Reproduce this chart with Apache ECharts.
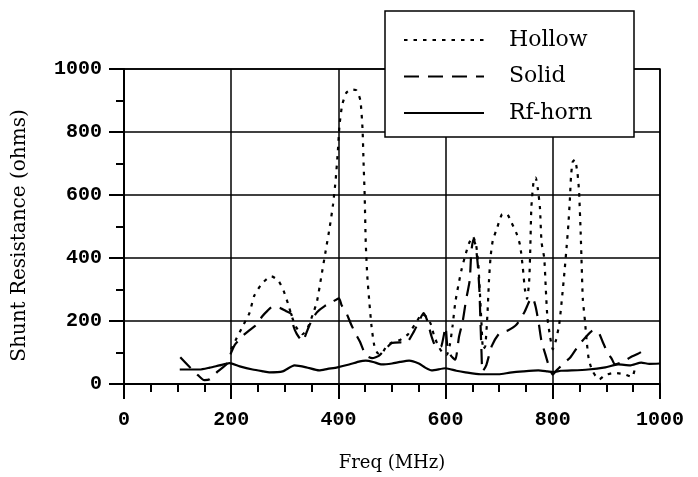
<!DOCTYPE html>
<html>
<head>
<meta charset="utf-8">
<script src="https://cdn.jsdelivr.net/npm/echarts@6/dist/echarts.min.js"></script>
<style>
  html, body { margin: 0; padding: 0; background: #fff; }
  #chart { width: 698px; height: 477px; }
</style>
</head>
<body>
<div id="chart"></div>
<script>
// values (freq in MHz, resistance in ohms)
const hollowFreq = [200, 210, 222, 234, 243, 258, 275, 288, 298, 306, 314, 322, 333, 343, 352, 360, 368, 376, 384, 390, 395, 399, 402, 407, 415, 425, 434, 441, 445, 447, 449, 451, 454, 458, 462, 467, 473, 480, 489, 500, 515, 530, 545, 556, 565, 573, 578, 586, 594, 602, 608, 613, 618, 624, 630, 637, 644, 651, 657, 661, 664, 667, 670, 674, 678, 681, 684, 688, 696, 705, 714, 723, 733, 739, 744, 748, 752, 756, 758, 760, 764, 768, 772, 776, 779, 784, 787, 790, 795, 800, 806, 812, 817, 822, 826, 829, 832, 834, 837, 841, 846, 849, 852, 854, 856, 860, 863, 867, 873, 880, 887, 897, 915, 935, 948, 953, 958]
const hollowVal = [110, 145, 185, 225, 280, 320, 342, 328, 295, 255, 210, 178, 158, 180, 220, 262, 340, 420, 500, 570, 650, 740, 820, 885, 925, 935, 932, 900, 810, 700, 600, 450, 340, 255, 180, 122, 98, 95, 118, 132, 140, 158, 195, 222, 212, 188, 156, 122, 100, 92, 125, 185, 258, 315, 365, 410, 448, 468, 440, 380, 290, 190, 110, 120, 220, 330, 405, 455, 495, 538, 540, 512, 475, 440, 370, 300, 270, 330, 430, 560, 640, 655, 620, 560, 450, 400, 300, 210, 150, 110, 140, 190, 270, 360, 440, 505, 590, 660, 705, 712, 670, 610, 480, 370, 270, 200, 140, 80, 45, 25, 15, 28, 35, 30, 22, 45, 55]

const solidFreq = [105, 122, 138, 150, 160, 175, 191, 200, 207, 221, 235, 247, 258, 268, 277, 290, 302, 312, 316, 322, 333, 342, 351, 360, 375, 390, 401, 406, 414, 423, 432, 440, 451, 463, 476, 490, 500, 515, 526, 541, 552, 559, 566, 574, 583, 592, 600, 603, 610, 618, 625, 632, 638, 645, 648, 652, 656, 660, 663, 665, 667, 669, 676, 686, 700, 716, 732, 747, 756, 762, 768, 774, 779, 786, 793, 800, 808, 820, 833, 848, 862, 875, 885, 894, 902, 910, 916, 930, 945, 958, 968]
const solidVal = [85, 55, 28, 12, 15, 40, 62, 100, 125, 152, 172, 188, 215, 233, 245, 242, 232, 222, 185, 160, 136, 170, 205, 228, 248, 262, 272, 250, 229, 192, 160, 135, 92, 82, 90, 115, 130, 132, 130, 167, 205, 225, 200, 150, 115, 120, 180, 125, 90, 77, 150, 200, 265, 330, 420, 460, 440, 380, 300, 200, 100, 40, 60, 120, 160, 170, 188, 228, 262, 275, 245, 190, 135, 95, 55, 30, 45, 65, 85, 122, 150, 170, 165, 130, 100, 80, 62, 70, 85, 95, 105]

const hornFreq = [104, 125, 141, 160, 178, 197, 216, 240, 260, 271, 296, 318, 340, 364, 380, 398, 420, 440, 451, 465, 481, 500, 515, 532, 550, 562, 574, 600, 620, 637, 665, 699, 720, 745, 773, 790, 800, 815, 835, 866, 898, 922, 944, 965, 980, 1000]
const hornVal = [46, 46, 46, 52, 59, 66, 56, 46, 40, 37, 40, 59, 53, 43, 48, 53, 62, 72, 74, 70, 62, 65, 70, 74, 65, 52, 43, 50, 42, 37, 31, 31, 36, 40, 43, 40, 38, 42, 43, 46, 53, 62, 59, 68, 64, 65]

const xTicks = { min: 0, max: 1000, step: 200 }
const yTicks = { min: 0, max: 1000, step: 200 }

const zip = (xs, ys) => xs.map((x, i) => [x, ys[i]])

const chart = echarts.init(document.getElementById('chart'))

const tickFont = { fontFamily: 'Liberation Mono', fontSize: 20, fontWeight: 'bold', color: '#000', formatter: v => String(v) }
const serif = 'DejaVu Serif'

const option = {
  animation: false,
  backgroundColor: '#fff',
  grid: {
    left: 124,
    right: 38,
    top: 69,
    bottom: 85,
    show: true,
    borderColor: '#000',
    borderWidth: 1.5
  },
  legend: {
    orient: 'vertical',
    left: 385,
    top: 11,
    padding: [18, 15, 13, 18],
    itemWidth: 80,
    itemHeight: 20,
    itemGap: 14.5,
    backgroundColor: '#fff',
    borderColor: '#000',
    borderWidth: 1.5,
    borderRadius: 0,
    itemStyle: { opacity: 0 },
    data: ['Hollow', 'Solid', 'Rf-horn'],
    textStyle: {
      fontFamily: serif,
      fontSize: 22,
      color: '#000',
      padding: [0, 0, 0, 20],
      width: 110,
      lineHeight: 20
    }
  },
  xAxis: {
    type: 'value',
    min: xTicks.min,
    max: xTicks.max,
    interval: xTicks.step,
    name: 'Freq (MHz)',
    nameLocation: 'middle',
    nameGap: 70,
    nameTextStyle: { fontFamily: serif, fontSize: 18, color: '#000' },
    axisLine: { show: true, onZero: false, lineStyle: { color: '#000', width: 2 } },
    axisTick: { show: true, inside: false, length: 15, lineStyle: { color: '#000', width: 2 } },
    minorTick: { show: true, splitNumber: 4, length: 8, lineStyle: { color: '#000', width: 2 } },
    splitLine: { show: true, lineStyle: { color: '#000', width: 1.5 } },
    axisLabel: Object.assign({ margin: 26 }, tickFont)
  },
  yAxis: {
    type: 'value',
    min: yTicks.min,
    max: yTicks.max,
    interval: yTicks.step,
    name: 'Shunt Resistance (ohms)',
    nameLocation: 'middle',
    nameGap: 94,
    nameTextStyle: { fontFamily: serif, fontSize: 20, color: '#000', padding: [0, 18, 0, 0] },
    axisLine: { show: true, onZero: false, lineStyle: { color: '#000', width: 2 } },
    axisTick: { show: true, inside: false, length: 15, lineStyle: { color: '#000', width: 2 } },
    minorTick: { show: true, splitNumber: 2, length: 8, lineStyle: { color: '#000', width: 2 } },
    splitLine: { show: true, lineStyle: { color: '#000', width: 1.5 } },
    axisLabel: Object.assign({ margin: 22 }, tickFont)
  },
  series: [
    {
      name: 'Hollow',
      type: 'line',
      symbol: 'none',
      smooth: 0.2,
      lineStyle: { color: '#000', width: 2.2, type: [3.5, 6] },
      itemStyle: { color: '#000' },
      data: zip(hollowFreq, hollowVal)
    },
    {
      name: 'Solid',
      type: 'line',
      symbol: 'none',
      smooth: 0.2,
      lineStyle: { color: '#000', width: 2.2, type: [15, 9] },
      itemStyle: { color: '#000' },
      data: zip(solidFreq, solidVal)
    },
    {
      name: 'Rf-horn',
      type: 'line',
      symbol: 'none',
      smooth: 0.2,
      lineStyle: { color: '#000', width: 2.2 },
      itemStyle: { color: '#000' },
      data: zip(hornFreq, hornVal)
    }
  ]
}

chart.setOption(option)
</script>
</body>
</html>
